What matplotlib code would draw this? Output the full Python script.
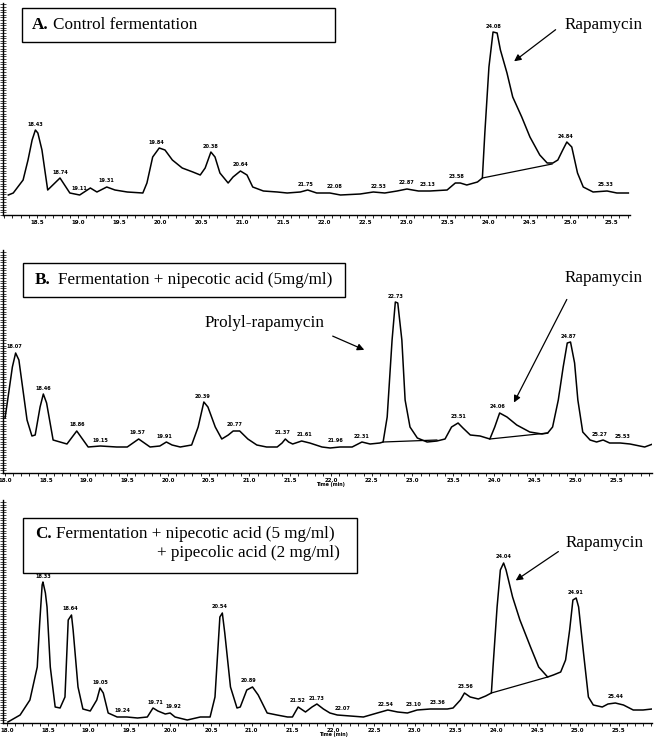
import numpy as np
import matplotlib.pyplot as plt
from matplotlib.ticker import MultipleLocator, FixedLocator
from matplotlib.patches import Rectangle

plt.rcParams['font.family'] = ['Liberation Serif', 'DejaVu Serif']

# ---- Panel A: control fermentation (time in min, signal in arbitrary units) ----
timeA = [18.15, 18.21, 18.33, 18.39, 18.44, 18.48, 18.51, 18.56, 18.60, 18.63, 18.78, 18.90,
         19.02, 19.15, 19.23, 19.35, 19.45, 19.60, 19.79,
         19.84, 19.91, 19.99, 20.06, 20.15, 20.27, 20.40, 20.49, 20.55, 20.62, 20.67, 20.73,
         20.83, 20.89, 20.98, 21.06, 21.13, 21.26, 21.43, 21.55, 21.71, 21.80, 21.91, 22.07,
         22.20, 22.44, 22.60, 22.74, 22.89, 23.01, 23.15, 23.29, 23.50, 23.60, 23.66, 23.74,
         23.87, 23.93, 23.96, 24.01, 24.06, 24.11, 24.15, 24.23, 24.30, 24.41, 24.51, 24.63,
         24.72, 24.79, 24.85, 24.91, 24.96, 25.02, 25.09, 25.16, 25.28, 25.45, 25.57, 25.71]
sigA = [20, 22, 35, 55, 75, 85, 82, 65, 42, 25, 37, 22,
        20, 27, 23, 28, 25, 23, 22,
        32, 58, 67, 65, 55, 47, 43, 40, 47, 63, 58, 42,
        32, 38, 44, 40, 28, 24, 23, 22, 23, 25, 22, 22,
        20, 21, 23, 22, 24, 26, 24, 24, 25, 32, 32, 30,
        33, 37, 82, 148, 183, 182, 165, 142, 118, 98, 78, 60,
        52, 52, 55, 65, 73, 68, 42, 28, 23, 24, 22, 22]
baseA_t = [[23.93, 24.78]]
baseA_s = [[37, 51]]
peaksA_t = [18.48, 18.78, 19.02, 19.35, 19.96, 20.62, 20.98, 21.77, 22.13, 22.66, 23.01,
            23.26, 23.62, 24.06, 24.94, 25.43]
peaksA_lab = ['18.43', '18.74', '19.11', '19.31', '19.84', '20.38', '20.64', '21.75', '22.08',
              '22.53', '22.87', '23.13', '23.58', '24.08', '24.84', '25.33']
ticksA = [18.5, 19.0, 19.5, 20.0, 20.5, 21.0, 21.5, 22.0, 22.5, 23.0, 23.5, 24.0, 24.5, 25.0, 25.5]

# ---- Panel B: + nipecotic acid ----
timeB = [18.00, 18.02, 18.09, 18.13, 18.17, 18.22, 18.27, 18.33, 18.37, 18.43, 18.47, 18.51,
         18.59, 18.76, 18.88, 19.02, 19.17, 19.37,
         19.50, 19.64, 19.78, 19.90, 19.98, 20.05, 20.15, 20.29, 20.37, 20.44, 20.49, 20.58,
         20.66, 20.74, 20.80, 20.88, 20.98, 21.09, 21.21, 21.34, 21.40, 21.44, 21.48, 21.53,
         21.64, 21.74, 21.89, 21.99, 22.11, 22.26, 22.38, 22.48, 22.60, 22.64, 22.69, 22.75,
         22.79, 22.82, 22.87, 22.91, 22.97, 23.06, 23.18, 23.30, 23.40, 23.48, 23.56, 23.62,
         23.71, 23.83, 23.91, 23.95, 24.01, 24.07, 24.16, 24.28, 24.44, 24.59, 24.66, 24.72,
         24.79, 24.85, 24.90, 24.94, 24.99, 25.03, 25.09, 25.18, 25.26, 25.34, 25.42, 25.55,
         25.67, 25.79, 25.85, 25.95]
sigB = [55, 66, 106, 120, 113, 83, 53, 37, 38, 66, 79, 70,
        33, 29, 42, 26, 27, 26,
        26, 34, 26, 27, 31, 28, 26, 28, 46, 71, 66, 46,
        34, 38, 42, 42, 34, 28, 26, 26, 30, 34, 31, 29,
        32, 30, 26, 25, 26, 26, 31, 29, 30, 31, 56, 133,
        171, 170, 133, 73, 46, 35, 31, 32, 34, 46, 50, 45,
        38, 37, 35, 34, 46, 60, 56, 48, 41, 39, 40, 46,
        73, 106, 130, 131, 110, 73, 41, 33, 31, 33, 30, 30,
        29, 27, 26, 29]
baseB_t = [[22.64, 23.30], [23.95, 24.66]]
baseB_s = [[31, 33], [34, 40]]
peaksB_t = [18.12, 18.47, 18.88, 19.17, 19.63, 19.96, 20.43, 20.82, 21.41, 21.68, 22.05,
            22.38, 22.79, 23.56, 24.05, 24.92, 25.30, 25.58]
peaksB_lab = ['18.07', '18.46', '18.86', '19.15', '19.57', '19.91', '20.39', '20.77', '21.37',
              '21.61', '21.96', '22.31', '22.73', '23.51', '24.06', '24.87', '25.27', '25.53']
ticksB = [18.0, 18.5, 19.0, 19.5, 20.0, 20.5, 21.0, 21.5, 22.0, 22.5, 23.0, 23.5, 24.0, 24.5,
          25.0, 25.5]

# ---- Panel C: + nipecotic acid + pipecolic acid ----
timeC = [18.01, 18.16, 18.28, 18.37, 18.40, 18.43, 18.44, 18.47, 18.49, 18.53, 18.59, 18.65,
         18.71, 18.75, 18.79, 18.81, 18.87, 18.93, 19.02, 19.10, 19.14, 19.18, 19.24, 19.35,
         19.47, 19.60,
         19.72, 19.79, 19.85, 19.94, 20.00, 20.06, 20.21, 20.37, 20.49, 20.55, 20.61, 20.64,
         20.67, 20.74, 20.82, 20.86, 20.94, 21.01, 21.08, 21.19, 21.31, 21.44, 21.50, 21.57,
         21.66, 21.74, 21.80, 21.88, 21.96, 22.05, 22.21, 22.37, 22.54, 22.67, 22.79, 22.91,
         23.03, 23.19, 23.40, 23.47, 23.56, 23.61, 23.68, 23.78, 23.87, 23.94, 23.96, 24.01,
         24.05, 24.09, 24.12, 24.20, 24.29, 24.42, 24.52, 24.63, 24.70, 24.79, 24.85, 24.90,
         24.94, 24.98, 25.01, 25.07, 25.13, 25.19, 25.30, 25.37, 25.46, 25.56, 25.68, 25.80,
         25.91]
sigC = [1, 8, 23, 56, 100, 138, 141, 130, 116, 56, 16, 15,
        26, 103, 108, 93, 36, 14, 12, 23, 35, 30, 10, 6,
        6, 5,
        6, 15, 12, 9, 10, 6, 3, 6, 6, 26, 106, 110,
        90, 36, 15, 16, 33, 36, 28, 10, 8, 6, 6, 16,
        11, 16, 19, 14, 10, 8, 7, 6, 10, 13, 11, 10,
        13, 14, 14, 15, 23, 30, 26, 24, 27, 30, 56, 116,
        153, 160, 153, 126, 103, 76, 56, 46, 48, 51, 63, 93,
        123, 125, 116, 70, 26, 18, 16, 19, 20, 18, 13, 13,
        14]
baseC_t = [[23.94, 24.63]]
baseC_s = [[30, 46]]
peaksC_t = [18.44, 18.77, 19.14, 19.41, 19.82, 20.04, 20.61, 20.96, 21.56, 21.79, 22.11,
            22.64, 22.98, 23.28, 23.62, 24.09, 24.97, 25.46]
peaksC_lab = ['18.33', '18.64', '19.05', '19.24', '19.71', '19.92', '20.54', '20.89', '21.52',
              '21.73', '22.07', '22.54', '23.10', '23.36', '23.56', '24.04', '24.91', '25.44']
ticksC = ticksB

W, H = 655, 737
fig = plt.figure(figsize=(W / 100, H / 100), dpi=100)


def px(x, y):
    return x / W, 1 - y / H


def panel(left, top, right, bottom, xlim, t, s, bt, bs, pt, plab, ticks, timelabel):
    x0, y0 = px(left, bottom)
    ax = fig.add_axes([x0, y0, (right - left) / W, (bottom - top) / H])
    ax.plot(t, s, color='black', lw=1.1, solid_joinstyle='round')
    for a, b in zip(bt, bs):
        ax.plot(a, b, color='black', lw=0.9)
    t = np.array(t); s = np.array(s)
    for tt, lab in zip(pt, plab):
        near = s[np.abs(t - tt) < 0.1]
        ax.text(tt, near.max() + 6, lab, fontsize=3.6, fontweight='bold',
                family='DejaVu Sans', ha='center', va='center')
    ax.set_xlim(*xlim)
    ax.set_ylim(0, bottom - top)
    for sp in ['top', 'right']:
        ax.spines[sp].set_visible(False)
    ax.spines['left'].set_linewidth(1.0)
    ax.spines['bottom'].set_linewidth(1.0)
    ax.xaxis.set_major_locator(FixedLocator(ticks))
    ax.xaxis.set_minor_locator(MultipleLocator(0.1))
    ax.set_xticklabels(['%.1f' % v for v in ticks], fontsize=4, fontweight='bold',
                       family='DejaVu Sans')
    ax.tick_params(axis='x', which='both', direction='out', length=2, width=0.6, pad=1.5)
    ax.yaxis.set_major_locator(MultipleLocator(2.6))
    ax.tick_params(axis='y', direction='inout', length=4, width=0.5, labelleft=False)
    if timelabel:
        ax.annotate('Time (min)', xy=(22.0, 0), xycoords=('data', 'axes fraction'),
                    xytext=(0, -6.5), textcoords='offset points', fontsize=3.4,
                    fontweight='bold', family='DejaVu Sans', ha='center', va='top')
    return ax


axA = panel(3, 3, 630, 215, (18.085, 25.73), timeA, sigA, baseA_t, baseA_s,
            peaksA_t, peaksA_lab, ticksA, False)
axB = panel(3, 250, 652, 473, (17.975, 25.94), timeB, sigB, baseB_t, baseB_s,
            peaksB_t, peaksB_lab, ticksB, True)
axC = panel(3, 500, 652, 723, (17.95, 25.91), timeC, sigC, baseC_t, baseC_s,
            peaksC_t, peaksC_lab, ticksC, True)

arrow = dict(arrowstyle='-|>', color='black', lw=0.9, mutation_scale=10)
fs = 12.3
axA.text(25.41, 190, 'Rapamycin', fontsize=fs, ha='center', va='center')
axA.annotate('', xy=(24.29, 152), xytext=(24.85, 187), arrowprops=arrow)
axB.text(25.35, 195, 'Rapamycin', fontsize=fs, ha='center', va='center')
axB.annotate('', xy=(24.23, 68), xytext=(24.91, 176), arrowprops=arrow)
axB.text(21.18, 150, 'Prolyl-rapamycin', fontsize=fs, ha='center', va='center')
axB.annotate('', xy=(22.44, 122), xytext=(21.99, 138), arrowprops=arrow)
axC.text(25.33, 180, 'Rapamycin', fontsize=fs, ha='center', va='center')
axC.annotate('', xy=(24.21, 141), xytext=(24.79, 173), arrowprops=arrow)


def box(x0, y0, x1, y1):
    bx, by = px(x0, y1)
    fig.add_artist(Rectangle((bx, by), (x1 - x0) / W, (y1 - y0) / H,
                             transform=fig.transFigure, fill=False, lw=1.0, color='black'))


box(22, 8, 335, 42)
fig.text(*px(32, 25), 'A.', fontsize=fs, fontweight='bold', va='center')
fig.text(*px(53, 25), 'Control fermentation', fontsize=fs, va='center')
box(23, 263, 345, 297)
fig.text(*px(35, 280), 'B.', fontsize=fs, fontweight='bold', va='center')
fig.text(*px(58, 280), 'Fermentation + nipecotic acid (5mg/ml)', fontsize=fs, va='center')
box(23, 518, 357, 573)
fig.text(*px(35, 534), 'C.', fontsize=fs, fontweight='bold', va='center')
fig.text(*px(56, 534), 'Fermentation + nipecotic acid (5 mg/ml)', fontsize=fs, va='center')
fig.text(*px(340, 553), '+ pipecolic acid (2 mg/ml)', fontsize=fs, va='center', ha='right')

fig.savefig('out.png', dpi=100)
